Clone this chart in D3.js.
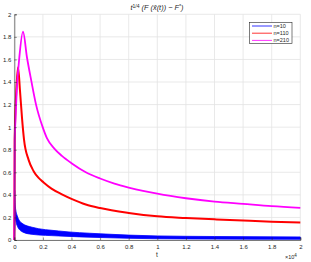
<!DOCTYPE html>
<html>
<head>
<meta charset="utf-8">
<script src="https://cdn.jsdelivr.net/npm/d3@7"></script>
<style>
  body { margin: 0; background: #fff; }
  svg { display: block; }
  text { font-family: "Liberation Sans", Arial, sans-serif; fill: #262626; }
</style>
</head>
<body>
<svg width="311" height="262"></svg>
<script>
// n=210 (magenta)
var magT = [0, 28, 70, 170, 350, 608, 890, 1190, 1520, 1985, 2290, 2800, 3330, 4000, 5000, 6000, 7000, 8000, 9000, 10000, 12000, 14000, 16000, 18000, 20000];
var magV = [0, 0.89, 1.03, 1.32, 1.615, 1.846, 1.615, 1.41, 1.2, 1.0, 0.90, 0.81, 0.745, 0.68, 0.60, 0.545, 0.50, 0.465, 0.435, 0.41, 0.37, 0.34, 0.32, 0.30, 0.285];
// n=110 (red)
var redT = [0, 28, 140, 260, 400, 540, 680, 1000, 1350, 1700, 2050, 2600, 3330, 4000, 5000, 6000, 8000, 10000, 12000, 14000, 16000, 18000, 20000];
var redV = [0, 0.89, 1.32, 1.53, 1.32, 1.08, 0.89, 0.71, 0.61, 0.55, 0.51, 0.455, 0.405, 0.365, 0.315, 0.283, 0.24, 0.21, 0.195, 0.183, 0.172, 0.162, 0.154];
// n=10 (blue) - oscillating band, upper and lower envelope
var bluT = [0, 25, 70, 190, 540, 1240, 3100, 6000, 10000, 14000, 20000];
var bluHi = [0, 0.44, 0.30, 0.22, 0.148, 0.113, 0.08, 0.055, 0.036, 0.031, 0.027];
var bluLo = [0, 0.10, 0.18, 0.13, 0.074, 0.05, 0.036, 0.022, 0.011, 0.008, 0.006];

var xTicks = [0, 2000, 4000, 6000, 8000, 10000, 12000, 14000, 16000, 18000, 20000];
var xTickLabels = ["0", "0.2", "0.4", "0.6", "0.8", "1", "1.2", "1.4", "1.6", "1.8", "2"];
var yTicks = [0, 0.2, 0.4, 0.6, 0.8, 1, 1.2, 1.4, 1.6, 1.8, 2];
var legendNames = ["n=10", "n=110", "n=210"];
var colors = ["#0000ff", "#ff0000", "#ff00ff"];

var svg = d3.select("svg");
var pL = 14.3, pR = 300.3, pT = 14.3, pB = 240;

var x = d3.scaleLinear().domain([0, 20000]).range([pL, pR]);
var y = d3.scaleLinear().domain([0, 2]).range([pB, pT]);

// grid
var grid = svg.append("g");
grid.selectAll(".gx").data(xTicks).enter().append("line")
    .attr("x1", function(d) { return x(d); }).attr("x2", function(d) { return x(d); })
    .attr("y1", pT).attr("y2", pB)
    .attr("stroke", "#e3e3e3").attr("stroke-width", 0.8);
grid.selectAll(".gy").data(yTicks).enter().append("line")
    .attr("y1", function(d) { return y(d); }).attr("y2", function(d) { return y(d); })
    .attr("x1", pL).attr("x2", pR)
    .attr("stroke", "#e3e3e3").attr("stroke-width", 0.8);

// blue band
var bluData = bluT.map(function(t, i) { return {t: t, hi: bluHi[i], lo: bluLo[i]}; });
svg.append("path").datum(bluData)
    .attr("d", d3.area().curve(d3.curveMonotoneX).x(function(d) { return x(d.t); })
        .y0(function(d) { return y(d.lo); }).y1(function(d) { return y(d.hi); }))
    .attr("fill", "#0000ff").attr("stroke", "#0000ff").attr("stroke-width", 0.8);

var line = d3.line().curve(d3.curveMonotoneX)
    .x(function(d) { return x(d[0]); }).y(function(d) { return y(d[1]); });
svg.append("path").datum(redT.map(function(t, i) { return [t, redV[i]]; }))
    .attr("d", line).attr("fill", "none").attr("stroke", "#ff0000").attr("stroke-width", 2);
svg.append("path").datum(magT.map(function(t, i) { return [t, magV[i]]; }))
    .attr("d", line).attr("fill", "none").attr("stroke", "#ff00ff").attr("stroke-width", 1.8);

// axes
var xAxis = d3.axisBottom(x).tickValues(xTicks).tickSize(-2.5)
    .tickFormat(function(d, i) { return xTickLabels[i]; });
var gx = svg.append("g").attr("transform", "translate(0," + pB + ")").call(xAxis);
var yAxis = d3.axisLeft(y).tickValues(yTicks).tickSize(-2.5)
    .tickFormat(function(d) { return d3.format("")(+d.toFixed(1)); });
var gy = svg.append("g").attr("transform", "translate(" + pL + ",0)").call(yAxis);
[gx, gy].forEach(function(g) {
    g.select(".domain").attr("stroke", "#262626").attr("stroke-width", 0.6);
    g.selectAll(".tick line").attr("stroke", "#262626").attr("stroke-width", 0.5);
    g.selectAll("text").attr("font-size", 6).attr("fill", "#262626")
        .attr("font-family", "Liberation Sans, Arial, sans-serif");
});
gx.selectAll("text").attr("y", 5);
gy.selectAll("text").attr("x", -3);

// labels
svg.append("text").attr("x", 157).attr("y", 257).attr("text-anchor", "middle")
    .attr("font-size", 6.5).text("t");
var ex = svg.append("text").attr("x", 285).attr("y", 259).attr("font-size", 5.5);
ex.append("tspan").text("\u00d710");
ex.append("tspan").attr("dy", -2.5).attr("font-size", 4.5).text("4");

var title = svg.append("text").attr("x", 157).attr("y", 10).attr("text-anchor", "middle")
    .attr("font-family", "Liberation Serif, DejaVu Serif, serif").attr("font-style", "italic")
    .attr("font-size", 7.4);
title.append("tspan").text("t");
title.append("tspan").attr("dy", -2.5).attr("font-size", 5).attr("font-style", "normal").text("1/4");
title.append("tspan").attr("dy", 2.5).text(" (F (x\u0304(t)) \u2212 F");
title.append("tspan").attr("dy", -2.5).attr("font-size", 5).text("*");
title.append("tspan").attr("dy", 2.5).text(")");

// legend
var lg = svg.append("g");
lg.append("rect").attr("x", 249.5).attr("y", 22.5).attr("width", 42.5).attr("height", 21)
    .attr("fill", "#fff").attr("stroke", "#262626").attr("stroke-width", 0.6);
var items = lg.selectAll(".item").data(legendNames).enter().append("g")
    .attr("transform", function(d, i) { return "translate(0," + (26 + i * 7.2) + ")"; });
items.append("line").attr("x1", 252).attr("x2", 272).attr("y1", 0).attr("y2", 0)
    .attr("stroke", function(d, i) { return colors[i]; }).attr("stroke-width", 0.8);
items.append("text").attr("x", 273.5).attr("y", 2).attr("font-size", 5.5).text(function(d) { return d; });
</script>
</body>
</html>
